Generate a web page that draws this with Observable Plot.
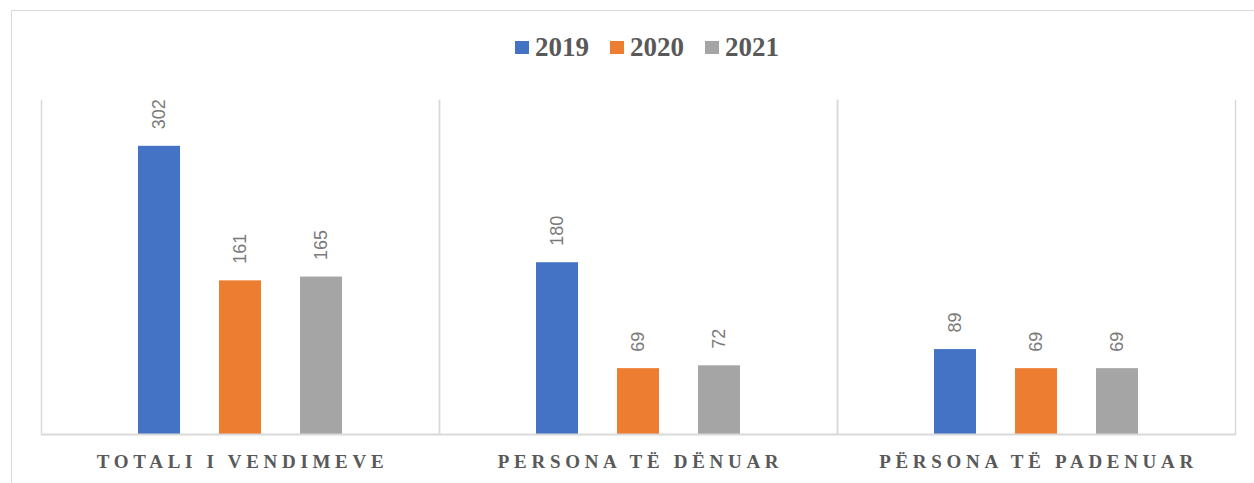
<!DOCTYPE html>
<html>
<head>
<meta charset="utf-8">
<script src="https://cdn.jsdelivr.net/npm/d3@7"></script>
<script src="https://cdn.jsdelivr.net/npm/@observablehq/plot@0.6"></script>
<style>
  body { margin: 0; overflow: hidden; background: #fff; }
  #wrap { position: relative; width: 1254px; height: 483px; overflow: hidden; background: #fff; }
  #border { position: absolute; left: 11px; top: 10px; width: 1400px; height: 700px; border: 1px solid #d9d9d9; box-sizing: border-box; }
  #legend { position: absolute; left: 515px; top: 32px; display: flex; align-items: center; font-family: "Liberation Serif", "Times New Roman", serif; font-weight: bold; font-size: 27px; color: #595959; }
  .item { display: flex; align-items: center; margin-right: 21px; }
  .sw { width: 14px; height: 13px; margin-right: 6px; }
  #chart { position: absolute; left: 0; top: 90px; }
</style>
</head>
<body>
<div id="wrap">
  <div id="border"></div>
  <div id="legend"></div>
  <div id="chart"></div>
</div>
<script>
const categories = ["TOTALI I VENDIMEVE", "PERSONA TË DËNUAR", "PËRSONA TË PADENUAR"];
const years = ["2019", "2020", "2021"];
const values2019 = [302, 180, 89];
const values2020 = [161, 69, 69];
const values2021 = [165, 72, 69];
const colors = ["#4472C4", "#ED7D31", "#A5A5A5"];

const series = [values2019, values2020, values2021];
const data = [];
categories.forEach((c, i) => {
  years.forEach((y, j) => data.push({category: c, year: y, value: series[j][i]}));
});

// legend
const legend = document.getElementById("legend");
years.forEach((y, j) => {
  const it = document.createElement("div");
  it.className = "item";
  const sw = document.createElement("div");
  sw.className = "sw";
  sw.style.background = colors[j];
  const t = document.createElement("span");
  t.textContent = y;
  it.appendChild(sw);
  it.appendChild(t);
  legend.appendChild(it);
});

const chart = Plot.plot({
  width: 1254,
  height: 393,
  marginTop: 10,
  marginBottom: 49,
  marginLeft: 40,
  marginRight: 19,
  style: {background: "transparent"},
  fx: {domain: categories, padding: 0, label: null},
  x: {domain: years, paddingInner: 0.476, paddingOuter: 1.165, axis: null},
  y: {domain: [0, 350], axis: null},
  color: {domain: years, range: colors},
  marks: [
    Plot.frame({anchor: "left", stroke: "#d9d9d9", strokeWidth: 1.5}),
    Plot.frame({anchor: "right", stroke: "#d9d9d9", strokeWidth: 1.5}),
    Plot.barY(data, {fx: "category", x: "year", y: "value", fill: "year"}),
    Plot.ruleY([0], {stroke: "#d9d9d9", strokeWidth: 2}),
    Plot.text(data, {
      fx: "category", x: "year", y: "value", text: d => String(d.value),
      rotate: -90, textAnchor: "start", dy: -17,
      fill: "#7a7a7a", fontSize: 18, fontFamily: "Liberation Sans, Arial, sans-serif"
    }),
    Plot.axisFx({
      anchor: "bottom", tickSize: 0, tickPadding: 20, label: null,
      fontSize: 19, fontWeight: "bold", fontFamily: "Liberation Serif, Times New Roman, serif",
      fill: "#595959", dx: 2
    })
  ]
});
document.getElementById("chart").appendChild(chart);
d3.select(chart).selectAll('g[aria-label="fx-axis tick label"]')
  .attr("font-size", 19)
  .style("font-size", "19px");
d3.select(chart).selectAll('g[aria-label="fx-axis tick label"] text')
  .style("font-size", "19px")
  .style("font-weight", "bold")
  .style("font-family", "'Liberation Serif', 'Times New Roman', serif")
  .style("letter-spacing", "4.7px");
</script>
</body>
</html>
